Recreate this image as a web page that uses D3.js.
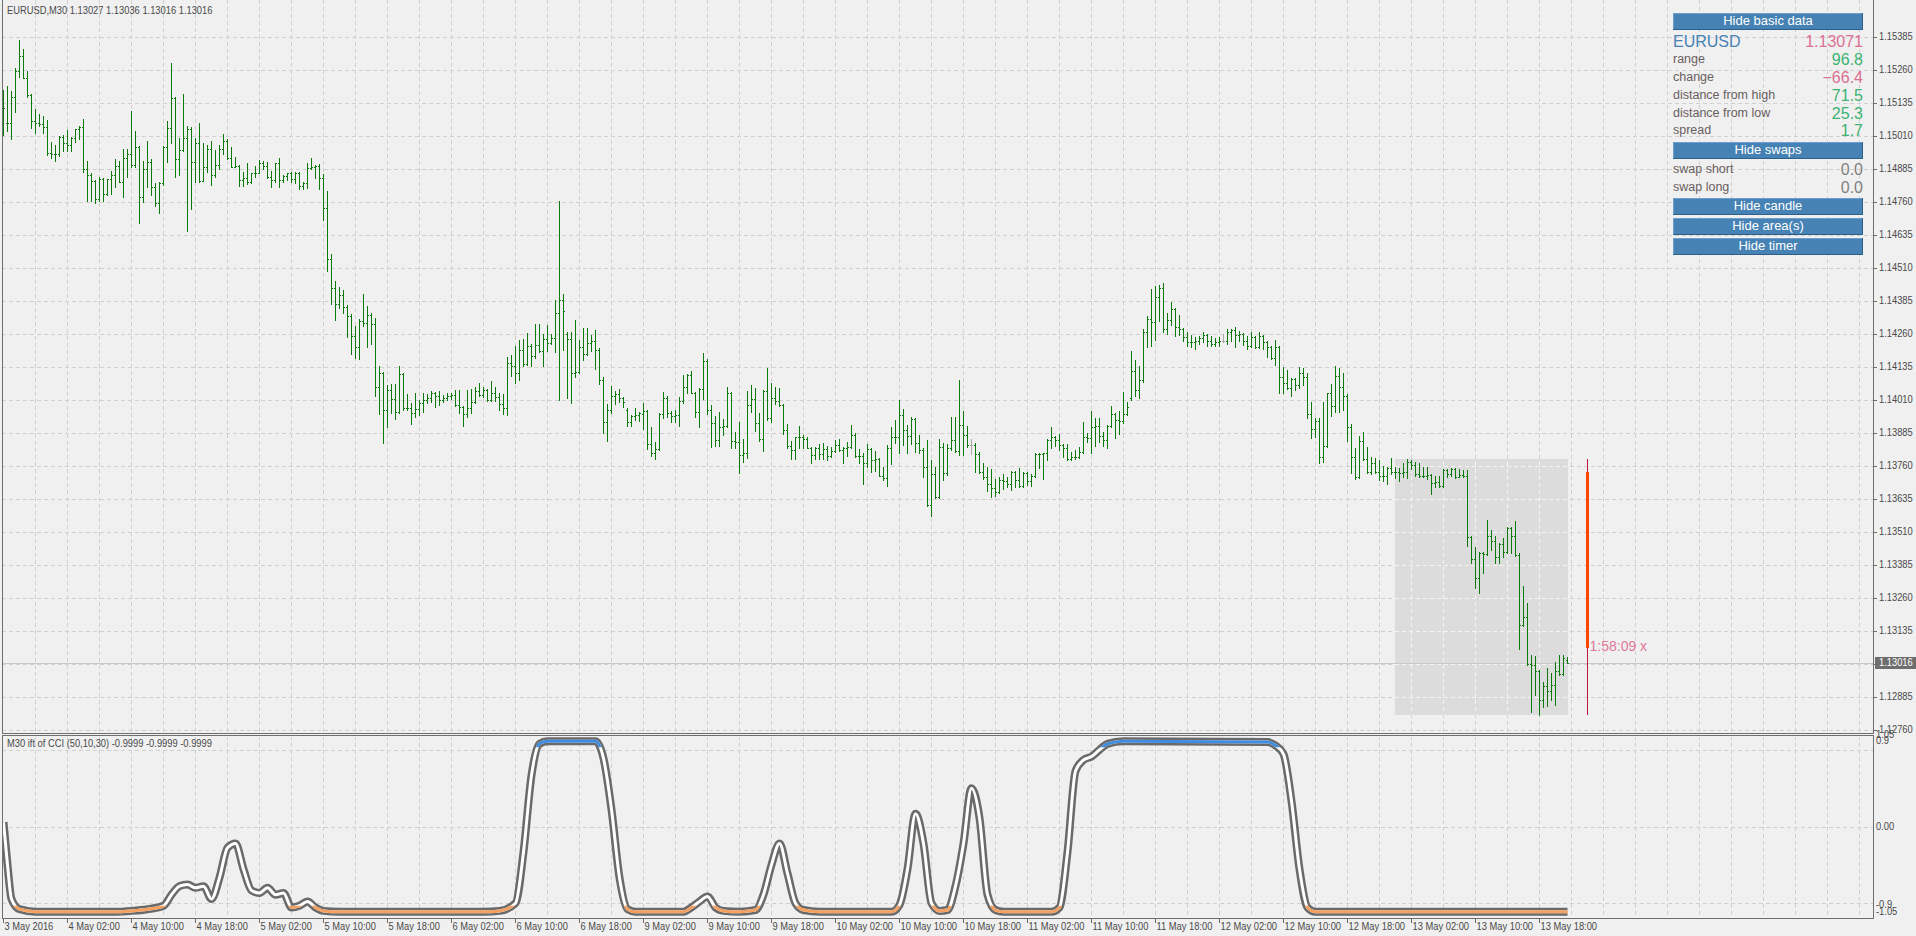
<!DOCTYPE html>
<html><head><meta charset="utf-8">
<script src="https://cdn.jsdelivr.net/npm/d3@7"></script>
<style>
html,body{margin:0;padding:0;background:#f0f0f0;overflow:hidden}
svg{display:block}
</style></head><body>
<svg id="c" width="1916" height="936"></svg>
<script>
// ---------------- DATA ----------------
const symbolName = "EURUSD";
const timeframe = "M30";
const opens = [
1.15150,1.15059,1.15059,1.15158,1.15258,1.15314,1.15230,1.15165,1.15068,1.15059,
1.15056,1.15044,1.14948,1.14942,1.14942,1.15009,1.14984,1.14977,1.15003,1.15037,
1.15044,1.14885,1.14864,1.14841,1.14771,1.14847,1.14790,1.14847,1.14864,1.14898,
1.14836,1.14927,1.14943,1.14901,1.14968,1.14779,1.14885,1.14912,1.14817,1.14756,
1.14832,1.14971,1.15040,1.15154,1.14923,1.14958,1.15005,1.15039,1.14912,1.14984,
1.14842,1.14895,1.14962,1.14862,1.14900,1.14962,1.14992,1.14927,1.14895,1.14898,
1.14846,1.14852,1.14838,1.14870,1.14872,1.14910,1.14898,1.14857,1.14845,1.14910,
1.14845,1.14861,1.14872,1.14847,1.14872,1.14822,1.14832,1.14889,1.14893,1.14898,
1.14853,1.14738,1.14544,1.14435,1.14374,1.14409,1.14365,1.14330,1.14254,1.14211,
1.14311,1.14302,1.14332,1.14298,1.14062,1.14115,1.13974,1.14048,1.14014,1.13965,
1.14110,1.13979,1.13980,1.13961,1.13976,1.14001,1.14011,1.14020,1.14037,1.14028,
1.14011,1.14018,1.14027,1.14030,1.13991,1.13986,1.13957,1.13980,1.14003,1.14047,
1.14031,1.14049,1.14011,1.14037,1.14022,1.13995,1.13982,1.14150,1.14138,1.14112,
1.14200,1.14147,1.14217,1.14176,1.14220,1.14195,1.14241,1.14226,1.14246,1.14340,
1.14390,1.14261,1.14241,1.14115,1.14119,1.14210,1.14186,1.14226,1.14236,1.14201,
1.14087,1.13927,1.13974,1.14027,1.14034,1.14018,1.13974,1.13927,1.13951,1.13956,
1.13958,1.13971,1.13843,1.13809,1.13824,1.13958,1.14020,1.13963,1.13951,1.13954,
1.14009,1.14059,1.14106,1.14039,1.13965,1.14054,1.14159,1.13973,1.13925,1.13860,
1.13910,1.13913,1.14037,1.13855,1.13852,1.13803,1.13809,1.13991,1.14015,1.13925,
1.13865,1.14045,1.13942,1.14018,1.14008,1.13991,1.13896,1.13837,1.13822,1.13870,
1.13872,1.13862,1.13831,1.13802,1.13831,1.13807,1.13824,1.13799,1.13819,1.13841,
1.13822,1.13828,1.13834,1.13880,1.13799,1.13800,1.13774,1.13824,1.13784,1.13787,
1.13725,1.13715,1.13828,1.13872,1.13870,1.13954,1.13898,1.13875,1.13941,1.13847,
1.13822,1.13756,1.13612,1.13730,1.13644,1.13832,1.13733,1.13828,1.13860,1.13819,
1.13917,1.13879,1.13841,1.13841,1.13807,1.13740,1.13721,1.13693,1.13677,1.13664,
1.13708,1.13706,1.13693,1.13737,1.13708,1.13685,1.13733,1.13704,1.13723,1.13805,
1.13807,1.13809,1.13860,1.13872,1.13860,1.13841,1.13828,1.13788,1.13794,1.13794,
1.13814,1.13870,1.13866,1.13910,1.13914,1.13875,1.13860,1.13913,1.13957,1.13936,
1.13933,1.13957,1.14018,1.14121,1.14049,1.14087,1.14268,1.14317,1.14306,1.14400,
1.14435,1.14279,1.14315,1.14355,1.14287,1.14279,1.14251,1.14232,1.14229,1.14236,
1.14245,1.14258,1.14236,1.14224,1.14229,1.14236,1.14236,1.14268,1.14277,1.14258,
1.14262,1.14235,1.14214,1.14251,1.14211,1.14254,1.14232,1.14210,1.14169,1.14211,
1.14100,1.14075,1.14056,1.14091,1.14068,1.14112,1.14097,1.13958,1.13902,1.13933,
1.13797,1.13837,1.14037,1.13989,1.14102,1.14062,1.14028,1.13910,1.13794,1.13718,
1.13856,1.13787,1.13740,1.13771,1.13737,1.13725,1.13723,1.13753,1.13737,1.13740,
1.13734,1.13737,1.13778,1.13765,1.13730,1.13723,1.13725,1.13727,1.13696,1.13699,
1.13686,1.13746,1.13731,1.13751,1.13721,1.13727,1.13725,1.13494,1.13408,1.13336,
1.13433,1.13427,1.13497,1.13478,1.13415,1.13466,1.13437,1.13525,1.13497,1.13424,
1.13159,1.13190,1.13010,1.13007,1.12985,1.12875,1.12928,1.12910,1.12932,1.12986,
1.12973,1.13027];
const highs = [
1.15186,1.15201,1.15182,1.15268,1.15375,1.15341,1.15259,1.15170,1.15114,1.15095,
1.15087,1.15072,1.14989,1.14977,1.15011,1.15014,1.15034,1.15006,1.15037,1.15049,
1.15076,1.14917,1.14870,1.14845,1.14857,1.14850,1.14848,1.14879,1.14924,1.14917,
1.14963,1.14963,1.15106,1.15030,1.14973,1.14918,1.14992,1.14925,1.14832,1.14838,
1.14973,1.15066,1.15289,1.15160,1.15003,1.15171,1.15049,1.15045,1.15003,1.15059,
1.14986,1.14976,1.14992,1.14958,1.14977,1.15019,1.15001,1.14970,1.14933,1.14901,
1.14876,1.14908,1.14870,1.14898,1.14920,1.14917,1.14914,1.14877,1.14910,1.14927,
1.14864,1.14872,1.14874,1.14876,1.14875,1.14838,1.14908,1.14928,1.14903,1.14904,
1.14867,1.14803,1.14565,1.14462,1.14440,1.14428,1.14370,1.14335,1.14293,1.14318,
1.14413,1.14368,1.14342,1.14323,1.14140,1.14118,1.14068,1.14070,1.14072,1.14140,
1.14115,1.14034,1.14001,1.14039,1.14011,1.14037,1.14033,1.14046,1.14042,1.14047,
1.14029,1.14037,1.14037,1.14049,1.14049,1.13990,1.14049,1.14053,1.14062,1.14075,
1.14059,1.14052,1.14083,1.14059,1.14037,1.14034,1.14173,1.14182,1.14216,1.14239,
1.14241,1.14264,1.14225,1.14299,1.14299,1.14260,1.14294,1.14260,1.14390,1.14764,
1.14413,1.14267,1.14267,1.14315,1.14239,1.14285,1.14285,1.14258,1.14277,1.14207,
1.14097,1.13995,1.14064,1.14046,1.14053,1.14022,1.13980,1.13955,1.13980,1.13965,
1.13999,1.13973,1.13910,1.13851,1.13961,1.14040,1.14025,1.13970,1.13973,1.14021,
1.14106,1.14109,1.14122,1.14042,1.14056,1.14188,1.14165,1.13992,1.13951,1.13967,
1.13938,1.14059,1.14042,1.13890,1.13928,1.13865,1.14045,1.14068,1.14056,1.13963,
1.14050,1.14133,1.14074,1.14059,1.14057,1.13995,1.13919,1.13856,1.13872,1.13913,
1.13879,1.13872,1.13834,1.13835,1.13843,1.13847,1.13836,1.13834,1.13860,1.13865,
1.13834,1.13852,1.13917,1.13885,1.13826,1.13812,1.13845,1.13828,1.13818,1.13792,
1.13756,1.13841,1.13910,1.13936,1.14011,1.13977,1.13917,1.13948,1.13944,1.13879,
1.13828,1.13860,1.13784,1.13759,1.13862,1.13847,1.13845,1.13948,1.13948,1.14087,
1.13970,1.13914,1.13862,1.13848,1.13813,1.13774,1.13756,1.13750,1.13711,1.13721,
1.13730,1.13721,1.13742,1.13742,1.13752,1.13737,1.13738,1.13731,1.13809,1.13809,
1.13812,1.13864,1.13908,1.13875,1.13882,1.13845,1.13843,1.13816,1.13822,1.13834,
1.13927,1.13888,1.13970,1.13944,1.13944,1.13891,1.13918,1.13989,1.13961,1.13970,
1.14040,1.14005,1.14195,1.14163,1.14140,1.14279,1.14330,1.14432,1.14441,1.14447,
1.14453,1.14342,1.14381,1.14359,1.14333,1.14283,1.14268,1.14258,1.14251,1.14254,
1.14267,1.14260,1.14254,1.14245,1.14251,1.14260,1.14279,1.14279,1.14286,1.14274,
1.14264,1.14254,1.14268,1.14254,1.14267,1.14258,1.14235,1.14214,1.14239,1.14215,
1.14135,1.14123,1.14094,1.14096,1.14135,1.14134,1.14112,1.14005,1.13942,1.13942,
1.14005,1.14039,1.14071,1.14138,1.14131,1.14112,1.14035,1.13919,1.13828,1.13876,
1.13889,1.13832,1.13797,1.13793,1.13784,1.13763,1.13759,1.13790,1.13759,1.13753,
1.13771,1.13786,1.13784,1.13775,1.13774,1.13759,1.13756,1.13730,1.13725,1.13723,
1.13750,1.13750,1.13753,1.13753,1.13749,1.13746,1.13746,1.13496,1.13456,1.13437,
1.13435,1.13557,1.13519,1.13497,1.13471,1.13487,1.13529,1.13531,1.13554,1.13430,
1.13307,1.13241,1.13045,1.13041,1.12990,1.12944,1.12997,1.12976,1.13020,1.13045,
1.13045,1.13036];
const lows = [
1.15015,1.15028,1.14999,1.15100,1.15236,1.15230,1.15160,1.15040,1.15024,1.15047,
1.15021,1.14939,1.14927,1.14918,1.14936,1.14956,1.14956,1.14956,1.14990,1.15000,
1.14876,1.14766,1.14763,1.14756,1.14766,1.14763,1.14788,1.14792,1.14819,1.14835,
1.14781,1.14857,1.14895,1.14895,1.14683,1.14761,1.14819,1.14789,1.14744,1.14721,
1.14826,1.14912,1.14984,1.14855,1.14864,1.14955,1.14653,1.14735,1.14838,1.14838,
1.14840,1.14876,1.14826,1.14857,1.14885,1.14942,1.14923,1.14895,1.14892,1.14823,
1.14823,1.14829,1.14832,1.14855,1.14870,1.14886,1.14851,1.14819,1.14838,1.14819,
1.14838,1.14845,1.14838,1.14832,1.14809,1.14809,1.14813,1.14885,1.14851,1.14812,
1.14691,1.14498,1.14375,1.14315,1.14361,1.14342,1.14248,1.14186,1.14172,1.14167,
1.14293,1.14210,1.14224,1.14027,1.13958,1.13850,1.13907,1.13961,1.13939,1.13961,
1.13975,1.13975,1.13920,1.13948,1.13955,1.13965,1.13999,1.14005,1.13986,1.13992,
1.14005,1.14011,1.14015,1.13988,1.13961,1.13913,1.13948,1.13961,1.13999,1.14027,
1.14024,1.14009,1.14008,1.14008,1.13974,1.13957,1.13955,1.14102,1.14075,1.14087,
1.14138,1.14145,1.14140,1.14172,1.14193,1.14140,1.14195,1.14222,1.14193,1.14011,
1.14201,1.14018,1.14001,1.14097,1.14112,1.14163,1.14182,1.14195,1.14129,1.14072,
1.13888,1.13854,1.13961,1.13995,1.14005,1.13986,1.13914,1.13913,1.13936,1.13933,
1.13901,1.13827,1.13800,1.13789,1.13820,1.13944,1.13948,1.13929,1.13929,1.13914,
1.14001,1.14037,1.14037,1.13948,1.13910,1.14014,1.13957,1.13834,1.13837,1.13837,
1.13879,1.13910,1.13828,1.13828,1.13736,1.13778,1.13793,1.13967,1.13895,1.13856,
1.13819,1.13936,1.13929,1.13995,1.13989,1.13881,1.13831,1.13788,1.13788,1.13831,
1.13831,1.13828,1.13774,1.13788,1.13788,1.13788,1.13784,1.13796,1.13816,1.13818,
1.13774,1.13799,1.13830,1.13797,1.13774,1.13692,1.13756,1.13740,1.13741,1.13723,
1.13708,1.13687,1.13768,1.13847,1.13812,1.13841,1.13812,1.13846,1.13813,1.13812,
1.13718,1.13608,1.13573,1.13639,1.13640,1.13708,1.13728,1.13822,1.13816,1.13803,
1.13803,1.13834,1.13805,1.13740,1.13736,1.13712,1.13668,1.13645,1.13649,1.13658,
1.13673,1.13683,1.13670,1.13683,1.13683,1.13680,1.13689,1.13685,1.13721,1.13752,
1.13713,1.13784,1.13828,1.13837,1.13822,1.13797,1.13784,1.13784,1.13787,1.13790,
1.13810,1.13853,1.13812,1.13837,1.13853,1.13837,1.13831,1.13908,1.13866,1.13881,
1.13923,1.13955,1.14012,1.14027,1.14018,1.14081,1.14210,1.14214,1.14239,1.14311,
1.14270,1.14260,1.14296,1.14254,1.14258,1.14236,1.14214,1.14210,1.14203,1.14224,
1.14232,1.14216,1.14214,1.14216,1.14214,1.14232,1.14222,1.14235,1.14210,1.14235,
1.14220,1.14203,1.14210,1.14207,1.14207,1.14203,1.14173,1.14166,1.14142,1.14039,
1.14039,1.14052,1.14027,1.14049,1.14058,1.14068,1.13942,1.13866,1.13872,1.13771,
1.13778,1.13835,1.13952,1.13967,1.13967,1.13974,1.13854,1.13734,1.13711,1.13714,
1.13784,1.13734,1.13731,1.13734,1.13708,1.13705,1.13692,1.13731,1.13715,1.13706,
1.13718,1.13717,1.13749,1.13723,1.13721,1.13718,1.13711,1.13654,1.13683,1.13681,
1.13683,1.13721,1.13723,1.13715,1.13718,1.13718,1.13458,1.13393,1.13300,1.13279,
1.13357,1.13424,1.13443,1.13393,1.13393,1.13418,1.13430,1.13430,1.13420,1.13067,
1.13155,1.13007,1.12831,1.12894,1.12818,1.12849,1.12852,1.12875,1.12856,1.12969,
1.12969,1.13016];
const closes = [
1.15116,1.15061,1.15158,1.15258,1.15314,1.15230,1.15165,1.15068,1.15059,1.15056,
1.15044,1.14948,1.14942,1.14944,1.15009,1.14984,1.14977,1.15003,1.15037,1.15044,
1.14885,1.14864,1.14841,1.14771,1.14847,1.14790,1.14847,1.14864,1.14898,1.14836,
1.14927,1.14943,1.14901,1.14968,1.14779,1.14885,1.14912,1.14817,1.14756,1.14832,
1.14971,1.15040,1.15154,1.14923,1.14958,1.15005,1.15039,1.14912,1.14984,1.14842,
1.14895,1.14962,1.14862,1.14900,1.14962,1.14992,1.14927,1.14895,1.14898,1.14846,
1.14852,1.14838,1.14870,1.14872,1.14910,1.14898,1.14857,1.14845,1.14910,1.14845,
1.14861,1.14872,1.14847,1.14872,1.14822,1.14832,1.14889,1.14893,1.14898,1.14853,
1.14737,1.14544,1.14435,1.14374,1.14409,1.14365,1.14330,1.14254,1.14211,1.14311,
1.14302,1.14332,1.14298,1.14062,1.14115,1.13974,1.14048,1.14014,1.13965,1.14110,
1.13979,1.13980,1.13961,1.13976,1.14001,1.14011,1.14020,1.14037,1.14028,1.14011,
1.14018,1.14027,1.14030,1.13991,1.13986,1.13957,1.13980,1.14003,1.14047,1.14031,
1.14049,1.14011,1.14037,1.14022,1.13995,1.13982,1.14150,1.14138,1.14112,1.14200,
1.14147,1.14217,1.14176,1.14220,1.14195,1.14241,1.14226,1.14246,1.14340,1.14390,
1.14347,1.14241,1.14115,1.14119,1.14210,1.14186,1.14226,1.14236,1.14201,1.14087,
1.13927,1.13974,1.14027,1.14034,1.14018,1.14005,1.13927,1.13951,1.13956,1.13961,
1.13971,1.13843,1.13809,1.13824,1.13958,1.14020,1.13963,1.13951,1.13954,1.14009,
1.14059,1.14106,1.14039,1.13965,1.14054,1.14159,1.13973,1.13925,1.13860,1.13910,
1.13913,1.14037,1.13855,1.13852,1.13803,1.13809,1.13991,1.14015,1.13925,1.13865,
1.14045,1.13942,1.14018,1.14008,1.13991,1.13896,1.13837,1.13822,1.13870,1.13872,
1.13862,1.13831,1.13802,1.13831,1.13807,1.13824,1.13799,1.13819,1.13841,1.13822,
1.13828,1.13834,1.13880,1.13799,1.13800,1.13774,1.13824,1.13784,1.13787,1.13725,
1.13715,1.13828,1.13872,1.13870,1.13954,1.13898,1.13875,1.13941,1.13847,1.13822,
1.13756,1.13612,1.13730,1.13644,1.13832,1.13733,1.13828,1.13860,1.13819,1.13917,
1.13879,1.13841,1.13841,1.13807,1.13740,1.13721,1.13693,1.13677,1.13664,1.13708,
1.13706,1.13693,1.13737,1.13708,1.13685,1.13733,1.13704,1.13723,1.13805,1.13807,
1.13809,1.13860,1.13872,1.13860,1.13841,1.13828,1.13788,1.13794,1.13796,1.13814,
1.13870,1.13866,1.13910,1.13914,1.13875,1.13860,1.13913,1.13957,1.13936,1.13933,
1.13957,1.13984,1.14121,1.14049,1.14087,1.14268,1.14317,1.14306,1.14400,1.14435,
1.14279,1.14315,1.14355,1.14287,1.14279,1.14251,1.14232,1.14229,1.14236,1.14245,
1.14258,1.14236,1.14224,1.14229,1.14236,1.14236,1.14268,1.14277,1.14258,1.14262,
1.14235,1.14214,1.14251,1.14211,1.14254,1.14232,1.14210,1.14169,1.14211,1.14100,
1.14075,1.14056,1.14091,1.14068,1.14112,1.14097,1.13958,1.13902,1.13933,1.13797,
1.13837,1.14037,1.13989,1.14102,1.14062,1.14028,1.13910,1.13794,1.13718,1.13856,
1.13787,1.13740,1.13771,1.13737,1.13725,1.13723,1.13753,1.13737,1.13740,1.13734,
1.13737,1.13778,1.13765,1.13730,1.13723,1.13725,1.13727,1.13696,1.13699,1.13686,
1.13746,1.13731,1.13751,1.13721,1.13727,1.13725,1.13494,1.13408,1.13336,1.13433,
1.13427,1.13497,1.13478,1.13415,1.13466,1.13437,1.13525,1.13497,1.13424,1.13159,
1.13190,1.13010,1.13007,1.12985,1.12875,1.12928,1.12910,1.12932,1.12986,1.12973,
1.13033,1.13016];

// indicator (inverse Fisher transform of CCI), read at these bar indices
const iftBars = [0,1,2,4,8,28,32,36,40,42,44,46,48,50,52,54,56,58,60,62,64,66,68,70,72,74,76,78,80,84,120,124,128,130,132,134,136,148,150,152,154,156,158,170,172,174,176,178,180,184,188,190,192,194,196,198,200,204,222,224,226,228,230,232,234,236,238,240,242,244,246,248,250,262,264,266,268,270,272,274,276,280,316,318,320,322,324,326,328,391];
const iftValues = [0.05,-0.45,-0.85,-0.97,-1,-1,-0.99,-0.97,-0.93,-0.8,-0.7,-0.68,-0.72,-0.7,-0.85,-0.6,-0.25,-0.2,-0.5,-0.75,-0.78,-0.72,-0.8,-0.78,-0.95,-0.93,-0.88,-0.95,-0.99,-1,-1,-0.99,-0.9,-0.3,0.6,0.97,1.0,1.0,0.8,0.2,-0.6,-0.97,-1,-1,-0.95,-0.88,-0.82,-0.95,-0.99,-1,-0.98,-0.8,-0.45,-0.2,-0.55,-0.9,-0.98,-1,-1,-0.92,-0.5,0.15,-0.2,-0.9,-0.99,-0.98,-0.7,-0.2,0.45,0.1,-0.8,-0.98,-1,-1,-0.95,-0.3,0.65,0.78,0.82,0.9,0.97,1.0,0.99,0.95,0.85,0.3,-0.5,-0.95,-1,-1];
const iftLevels = [0.9, 0, -0.9];
const iftAxisLabels = ["1.05","0.9","0.00","-0.9","-1.05"];
const iftAxisValues = [1.05, 0.9, 0, -0.9, -1.05];

const priceTicks = [1.12760,1.12885,1.13010,1.13135,1.13260,1.13385,1.13510,1.13635,1.13760,1.13885,1.14010,1.14135,1.14260,1.14385,1.14510,1.14635,1.14760,1.14885,1.15010,1.15135,1.15260,1.15385];
const timeLabels = ["3 May 2016","4 May 02:00","4 May 10:00","4 May 18:00","5 May 02:00","5 May 10:00","5 May 18:00","6 May 02:00","6 May 10:00","6 May 18:00","9 May 02:00","9 May 10:00","9 May 18:00","10 May 02:00","10 May 10:00","10 May 18:00","11 May 02:00","11 May 10:00","11 May 18:00","12 May 02:00","12 May 10:00","12 May 18:00","13 May 02:00","13 May 10:00","13 May 18:00"];
const barsPerLabel = 16, barsPerGrid = 8;

const priceRange = [1.12750, 1.15526];
const bidPrice = 1.13016;
const areaStartBar = 348, areaEndBar = 391;
const dayHigh = 1.13786, dayLow = 1.12818, dayOpen = 1.13737, dayClose = 1.13071;
const timerBar = 396;
const timerText = "1:58:09 x";

const infoPrice = "1.13071";
const infoLabels = ["range","change","distance from high","distance from low","spread"];
const infoValues = [96.8, -66.4, 71.5, 25.3, 1.7];
const swapLabels = ["swap short","swap long"];
const swapValues = [0.0, 0.0];
const buttons = ["Hide basic data","Hide swaps","Hide candle","Hide area(s)","Hide timer"];

// ---------------- LAYOUT ----------------
const W = 1916, H = 936;
const PL = 2, PR = 1873;
const mainTop = 0, mainBot = 733, indTop = 736, indBot = 918;
const arial = "'Liberation Sans',Arial,sans-serif";
const smallSize = 11, squeeze = 0.85;
const axisColor = "#6e6e6e", textColor = "#4a4a4a", gridColor = "#d0d0d0";
const barColor = "#0c7a0c", dojiColor = "#a8a8a8";

const svg = d3.select("#c");
const n = Math.min(opens.length, highs.length, lows.length, closes.length);
const x = d3.scaleLinear().domain([0, 1]).range([3.5, 7.5]);
const y = d3.scaleLinear().domain(priceRange).range([mainBot, mainTop]);
const iy = d3.scaleLinear().domain([-1.05, 1.05]).range([916, 737]);
const snap = v => Math.round(v) + 0.5;

function smallText(g, tx, ty, str, color) {
  return g.append("text")
    .attr("transform", `translate(${tx},${ty}) scale(${squeeze},1)`)
    .attr("dominant-baseline", "middle")
    .attr("font-family", arial).attr("font-size", smallSize)
    .attr("fill", color || textColor).text(str);
}

svg.append("rect").attr("width", W).attr("height", H).attr("fill", "#f0f0f0");
const defs = svg.append("defs");
defs.append("clipPath").attr("id", "clipMain").append("rect")
  .attr("x", PL + 1).attr("y", mainTop).attr("width", PR - PL - 1).attr("height", mainBot - mainTop);
defs.append("clipPath").attr("id", "clipInd").append("rect")
  .attr("x", PL + 1).attr("y", indTop + 1).attr("width", PR - PL - 1).attr("height", indBot - indTop - 1);

const gridBars = d3.range(barsPerGrid, 470, barsPerGrid).filter(b => x(b) < PR - 2);

function drawGrid(g, color, y0, y1, hLevels) {
  g.selectAll("line.v").data(gridBars).join("line")
    .attr("x1", b => snap(x(b) - 0.5)).attr("x2", b => snap(x(b) - 0.5))
    .attr("y1", y0).attr("y2", y1)
    .attr("stroke", color).attr("stroke-dasharray", "4,3");
  g.selectAll("line.h").data(hLevels).join("line").attr("class", "h")
    .attr("x1", PL).attr("x2", PR).attr("y1", d => snap(d)).attr("y2", d => snap(d))
    .attr("stroke", color).attr("stroke-dasharray", "4,3");
}

// main panel
const gMain = svg.append("g").attr("clip-path", "url(#clipMain)").attr("shape-rendering", "crispEdges");
drawGrid(gMain.append("g"), gridColor, mainTop, mainBot, priceTicks.map(p => y(p)));

// area rectangle (day range)
const ax0 = x(areaStartBar) - 0.5, ax1 = x(areaEndBar) + 0.5;
const ayTop = Math.round(y(dayHigh)), ayBot = Math.round(y(dayLow));
gMain.append("rect").attr("x", ax0).attr("y", ayTop)
  .attr("width", ax1 - ax0).attr("height", ayBot - ayTop).attr("fill", "#dcdcdc");
defs.append("clipPath").attr("id", "clipArea").append("rect")
  .attr("x", ax0).attr("y", ayTop).attr("width", ax1 - ax0).attr("height", ayBot - ayTop);
drawGrid(gMain.append("g").attr("clip-path", "url(#clipArea)"), "#f4f4f4", mainTop, mainBot, priceTicks.map(p => y(p)));

// bid line
gMain.append("line").attr("x1", PL).attr("x2", PR).attr("y1", snap(y(bidPrice))).attr("y2", snap(y(bidPrice)))
  .attr("stroke", "#c8c8c8");

// OHLC bars (doji bars in the line colour, as the terminal draws them)
const idx = d3.range(n);
gMain.append("g").selectAll("path").data(idx).join("path")
  .attr("fill", "none")
  .attr("stroke", i => opens[i] === closes[i] ? dojiColor : barColor)
  .attr("d", i => {
    const cx = x(i);
    const yh = Math.round(y(highs[i])), yl = Math.round(y(lows[i]));
    const yo = snap(y(opens[i])), yc = snap(y(closes[i]));
    return `M${cx},${yh}V${yl + 1}M${cx - 1.5},${yo}H${cx - 0.5}M${cx + 0.5},${yc}H${cx + 1.5}`;
  });

// day candle + timer
const tx = x(timerBar);
gMain.append("line").attr("x1", tx).attr("x2", tx).attr("y1", y(dayHigh)).attr("y2", y(dayLow))
  .attr("stroke", "#c0183c");
gMain.append("rect").attr("x", tx - 1.5).attr("width", 3)
  .attr("y", y(dayOpen)).attr("height", y(dayClose) - y(dayOpen)).attr("fill", "#ff4500");
svg.append("text").attr("x", tx + 2).attr("y", y(dayClose) - 1).attr("dominant-baseline", "middle")
  .attr("font-family", arial).attr("font-size", 14).attr("fill", "#e07898").text(timerText);

// indicator panel
const gInd = svg.append("g").attr("clip-path", "url(#clipInd)");
drawGrid(gInd.append("g").attr("shape-rendering", "crispEdges"), gridColor, indTop, indBot, iftLevels.map(v => iy(v)));
const iftPts = iftBars.map((b, k) => [b, iftValues[k]]);
const line = d3.line().x(d => x(d[0])).y(d => iy(d[1])).curve(d3.curveMonotoneX);
const pathD = line(iftPts);
gInd.append("path").attr("d", pathD).attr("fill", "none").attr("stroke", "#6a6a6a")
  .attr("stroke-width", 8).attr("stroke-linejoin", "round").attr("stroke-linecap", "butt");
gInd.append("path").attr("d", pathD).attr("fill", "none").attr("stroke", "#ffffff").attr("stroke-width", 3);
defs.append("clipPath").attr("id", "clipHi").append("rect").attr("x", 0).attr("y", 0).attr("width", W).attr("height", iy(0.93));
defs.append("clipPath").attr("id", "clipLo").append("rect").attr("x", 0).attr("y", iy(-0.93)).attr("width", W).attr("height", H);
gInd.append("path").attr("d", pathD).attr("fill", "none").attr("stroke", "#3f8ce0").attr("stroke-width", 3).attr("clip-path", "url(#clipHi)");
gInd.append("path").attr("d", pathD).attr("fill", "none").attr("stroke", "#f4a060").attr("stroke-width", 3).attr("clip-path", "url(#clipLo)");

// panel borders
svg.append("rect").attr("x", PL + 0.5).attr("y", -0.5).attr("width", PR - PL).attr("height", mainBot + 1)
  .attr("fill", "none").attr("stroke", axisColor).attr("shape-rendering", "crispEdges");
svg.append("rect").attr("x", PL + 0.5).attr("y", indTop - 0.5).attr("width", PR - PL).attr("height", indBot - indTop + 1)
  .attr("fill", "none").attr("stroke", axisColor).attr("shape-rendering", "crispEdges");

// price axis
const gAx = svg.append("g");
gAx.selectAll("line").data(priceTicks).join("line")
  .attr("x1", PR + 1).attr("x2", PR + 4).attr("y1", p => snap(y(p))).attr("y2", p => snap(y(p)))
  .attr("stroke", axisColor).attr("shape-rendering", "crispEdges");
priceTicks.forEach(p => smallText(gAx, PR + 6, y(p), d3.format(".5f")(p)));
const by = y(bidPrice);
svg.append("rect").attr("x", PR + 2).attr("y", Math.round(by) - 6).attr("width", W - PR - 2).attr("height", 12).attr("fill", "#6e6e6e");
smallText(svg, PR + 6, by, d3.format(".5f")(bidPrice), "#ffffff");

// indicator axis labels
const iLabelPos = [735, 741, 827, 905, 912];
const gIA = svg.append("g");
iftAxisValues.forEach((v, k) => smallText(gIA, PR + 3, iLabelPos[k], iftAxisLabels[k]));

// time axis
const labelBars = timeLabels.map((t, k) => k * barsPerLabel);
const gT = svg.append("g");
gT.selectAll("line").data(labelBars).join("line")
  .attr("x1", b => snap(x(b) - 0.5)).attr("x2", b => snap(x(b) - 0.5)).attr("y1", indBot + 1).attr("y2", indBot + 5)
  .attr("stroke", axisColor).attr("shape-rendering", "crispEdges");
labelBars.forEach((b, k) => smallText(gT, x(b) + 1, 927, timeLabels[k]));

// titles
smallText(svg, 7, 11, `${symbolName},${timeframe}  ${d3.format(".5f")(opens[n-1])} ${d3.format(".5f")(highs[n-1])} ${d3.format(".5f")(lows[n-1])} ${d3.format(".5f")(closes[n-1])}`);
smallText(svg, 7, 744, `${timeframe} ift of CCI (50,10,30) -0.9999 -0.9999 -0.9999`);

// info panel
const bx0 = 1673, bx1 = 1863;
const gP = svg.append("g").attr("font-family", arial);
function button(label, yTop) {
  const g = gP.append("g");
  g.append("rect").attr("x", bx0).attr("y", yTop).attr("width", bx1 - bx0).attr("height", 17).attr("fill", "#2c5f8a");
  g.append("rect").attr("x", bx0).attr("y", yTop).attr("width", bx1 - bx0 - 1).attr("height", 16).attr("fill", "#6d9fcc");
  g.append("rect").attr("x", bx0 + 1).attr("y", yTop + 1).attr("width", bx1 - bx0 - 2).attr("height", 15).attr("fill", "#4682b4");
  g.append("text").attr("x", (bx0 + bx1) / 2).attr("y", yTop + 9).attr("text-anchor", "middle")
    .attr("dominant-baseline", "middle").attr("font-size", 13).attr("fill", "#ffffff").text(label);
}
const btnY = [13, 142, 198, 218, 238];
buttons.forEach((b, k) => button(b, btnY[k]));
gP.append("text").attr("x", bx0).attr("y", 43).attr("dominant-baseline", "middle").attr("font-size", 16).attr("fill", "#4682b4").text(symbolName);
gP.append("text").attr("x", bx1).attr("y", 43).attr("text-anchor", "end").attr("dominant-baseline", "middle").attr("font-size", 16).attr("fill", "#db7093").text(infoPrice);
const rowY = [60, 78, 96, 114, 131];
infoLabels.forEach((l, k) => {
  gP.append("text").attr("x", bx0).attr("y", rowY[k]).attr("dominant-baseline", "middle").attr("font-size", 12.5).attr("fill", "#6a6060").text(l);
  gP.append("text").attr("x", bx1).attr("y", rowY[k] + 1).attr("text-anchor", "end").attr("dominant-baseline", "middle").attr("font-size", 16)
    .attr("fill", infoValues[k] < 0 ? "#db7093" : "#3cb371").text(d3.format(".1f")(infoValues[k]));
});
const swapY = [170, 188];
swapLabels.forEach((l, k) => {
  gP.append("text").attr("x", bx0).attr("y", swapY[k]).attr("dominant-baseline", "middle").attr("font-size", 12.5).attr("fill", "#6a6060").text(l);
  gP.append("text").attr("x", bx1).attr("y", swapY[k] + 1).attr("text-anchor", "end").attr("dominant-baseline", "middle").attr("font-size", 16)
    .attr("fill", "#808080").text(d3.format(".1f")(swapValues[k]));
});
</script>
</body></html>
